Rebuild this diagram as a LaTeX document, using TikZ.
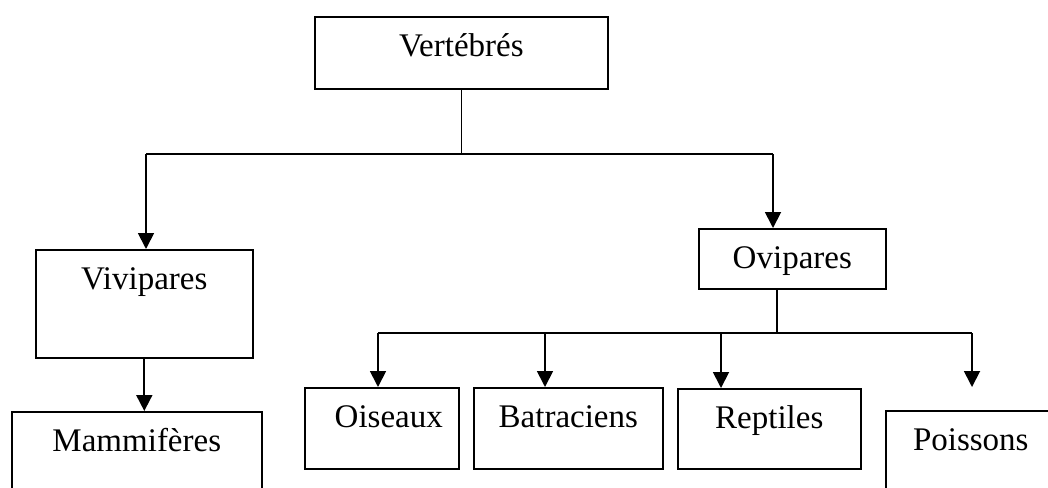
\documentclass[tikz,border=0pt]{standalone}
\usepackage{fontspec}
\setmainfont{Liberation Serif}
\usetikzlibrary{arrows.meta}

\tikzset{
  box/.style={draw, line width=1.6pt, inner xsep=0pt, inner ysep=0pt,
    text height=40pt, anchor=north west, font=\fontsize{33}{39}\selectfont},
  stem/.style={line width=1.2pt},
  bus/.style={line width=1.8pt},
  arr/.style={->, line width=1.8pt}
}

\begin{document}
\begin{tikzpicture}[x=1pt, y=-1pt, >={Triangle[width=16pt,length=16pt]}]

		\useasboundingbox (0,0) rectangle (1048,487);
		\clip (0,0) rectangle (1048,487);

		% Kaesten
		\node[box, minimum width=293pt, text depth=32pt] (vert) at (314,16) {Vertébrés};
		\node[box, minimum width=217pt, text depth=68pt] (viv) at (35,249) {Vivipares};
		\node[box, minimum width=250pt, text depth=80pt] (mam) at (11,411) {Mammifères};
		\node[box, minimum width=187pt, text depth=20pt] (ovi) at (698,228) {Ovipares};
		\node[box, minimum width=154pt, text depth=41pt] (oise) at (304,387) {\hspace*{14pt}Oiseaux};
		\node[box, minimum width=189pt, text depth=41pt] (batr) at (473,387) {Batraciens};
		\node[box, minimum width=183pt, text depth=40pt] (rept) at (677,388) {Reptiles};
		\node[box, minimum width=170pt, text depth=80pt] (pois) at (885,410) {Poissons};

		% Verzweigung oben
		\coordinate (busL) at (146,154);
		\coordinate (busR) at (773,154);
		\draw[stem] (vert.south) -- (vert.south |- busL);
		\draw[bus] (busL) -- (busR);
		\draw[arr] (busL) -- (busL |- viv.north);
		\draw[arr] (busR) -- (busR |- ovi.north);

		% Vivipares -> Mammiferes
		\draw[arr] (viv.south) -- (viv.south |- mam.north);

		% Verzweigung unten
		\coordinate (ostem) at (777,333);
		\coordinate (b1) at (378,333);
		\coordinate (b2) at (545,333);
		\coordinate (b3) at (721,333);
		\coordinate (b4) at (972,333);
		\coordinate (pend) at (972,387);
		\draw[stem] (ostem |- ovi.south) -- (ostem);
		\draw[bus] (b1) -- (b4);
		\draw[arr] (b1) -- (b1 |- oise.north);
		\draw[arr] (b2) -- (b2 |- batr.north);
		\draw[arr] (b3) -- (b3 |- rept.north);
		\draw[arr] (b4) -- (pend);
	\end{tikzpicture}
\end{document}
